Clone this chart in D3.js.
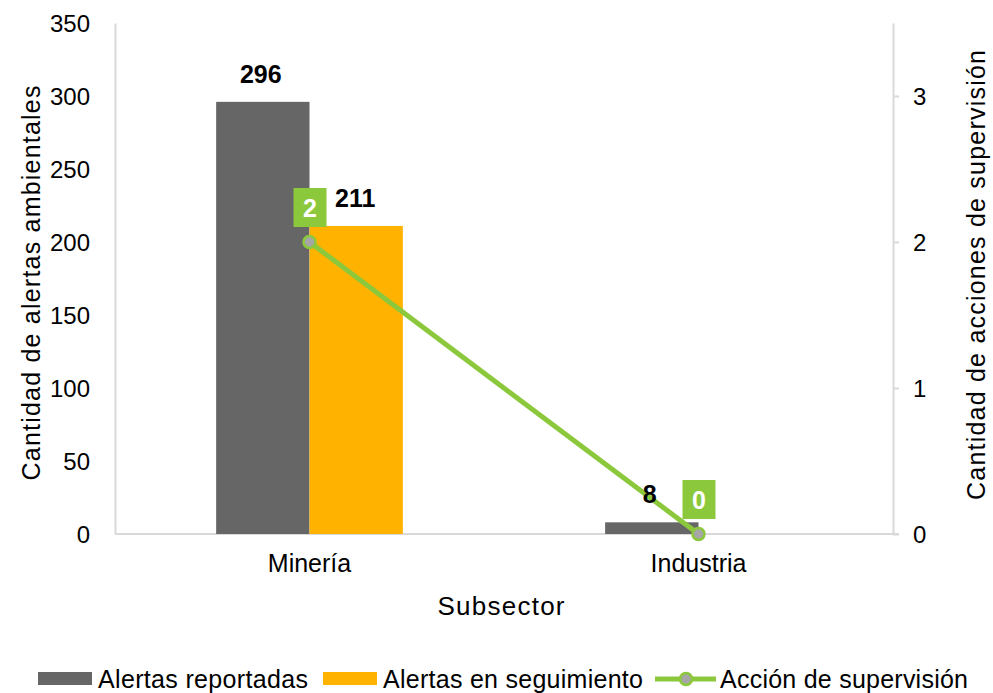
<!DOCTYPE html>
<html>
<head>
<meta charset="utf-8">
<script src="https://cdn.jsdelivr.net/npm/d3@7"></script>
<style>
  body { margin: 0; background: #fff; }
  svg text { font-family: "Liberation Sans", Arial, sans-serif; fill: #000; }
</style>
</head>
<body>
<div class="graph"></div>
<script>
// Data
const subsectors = ["Minería", "Industria"];
const alertasReportadas = [296, 8];
const alertasSeguimiento = [211, 0];
const accionSupervision = [2, 0];
const leftTicks = [0, 50, 100, 150, 200, 250, 300, 350];
const rightTicks = [0, 1, 2, 3];

const W = 993, H = 693;
const plot = {left: 115, right: 893, top: 23, bottom: 534};

const svg = d3.select(".graph").append("svg")
  .attr("width", W).attr("height", H);

// scales
const x = d3.scaleBand().domain(subsectors).range([plot.left, plot.right]);
const y = d3.scaleLinear().domain([0, 350]).range([plot.bottom, plot.top]);
const y2 = d3.scaleLinear().domain([0, 3.5]).range([plot.bottom, plot.top]);
const barW = x.bandwidth() * 0.24;

const gray = "#666666", orange = "#ffb300", green = "#8cc83c", axisCol = "#d9d9d9";

// left axis
const gl = svg.append("g").attr("transform", "translate(" + plot.left + ",0)")
  .call(d3.axisLeft(y).tickValues(leftTicks).tickSize(0).tickPadding(25));
gl.select(".domain").attr("stroke", axisCol).attr("stroke-width", 2);
gl.selectAll("text").style("font-size", "24px").attr("dy", "0.35em");

// right axis
const gr = svg.append("g").attr("transform", "translate(" + plot.right + ",0)")
  .call(d3.axisRight(y2).tickValues(rightTicks).tickFormat(d3.format("d"))
    .tickSize(6).tickPadding(14).tickSizeOuter(0));
gr.select(".domain").attr("stroke", axisCol).attr("stroke-width", 2);
gr.selectAll(".tick line").attr("stroke", axisCol).attr("stroke-width", 2);
gr.selectAll("text").style("font-size", "24px").attr("dy", "0.35em");

// baseline / category axis
const gx = svg.append("g").attr("transform", "translate(0," + plot.bottom + ")")
  .call(d3.axisBottom(x).tickSize(0).tickPadding(20));
gx.select(".domain").attr("d", "M" + plot.left + ",0H" + (plot.right + 6))
  .attr("stroke", axisCol).attr("stroke-width", 2);
gx.selectAll("text").style("font-size", "25px").attr("dy", "0.7em");

// bars
const cx = d => x(d) + x.bandwidth() / 2;
svg.selectAll(".bar1").data(subsectors).enter().append("rect")
  .attr("x", d => cx(d) - barW).attr("width", barW)
  .attr("y", (d, i) => y(alertasReportadas[i]))
  .attr("height", (d, i) => plot.bottom - y(alertasReportadas[i]))
  .attr("fill", gray);
svg.selectAll(".bar2").data(subsectors).enter().append("rect")
  .attr("x", d => cx(d)).attr("width", barW)
  .attr("y", (d, i) => y(alertasSeguimiento[i]))
  .attr("height", (d, i) => plot.bottom - y(alertasSeguimiento[i]))
  .attr("fill", orange);

// line on secondary axis
const line = d3.line().x((d, i) => cx(subsectors[i])).y(d => y2(d));
svg.append("path").datum(accionSupervision)
  .attr("d", line).attr("fill", "none").attr("stroke", green).attr("stroke-width", 5);
svg.selectAll(".pt").data(accionSupervision).enter().append("circle")
  .attr("cx", (d, i) => cx(subsectors[i])).attr("cy", d => y2(d)).attr("r", 6)
  .attr("fill", "#a6a6a6").attr("stroke", green).attr("stroke-width", 2.5);

// bar labels (drawn on top of the line)
svg.selectAll(".lab1").data(subsectors).enter().append("text")
  .attr("x", d => cx(d) - barW / 2 - 2).attr("y", (d, i) => y(alertasReportadas[i]) - 19)
  .attr("text-anchor", "middle").style("font-size", "25px").style("font-weight", "bold")
  .text((d, i) => alertasReportadas[i]);
svg.selectAll(".lab2").data(subsectors.filter((d, i) => alertasSeguimiento[i] > 0)).enter().append("text")
  .attr("x", d => cx(d) + barW / 2 - 1).attr("y", d => y(alertasSeguimiento[subsectors.indexOf(d)]) - 19)
  .attr("text-anchor", "middle").style("font-size", "25px").style("font-weight", "bold")
  .text(d => alertasSeguimiento[subsectors.indexOf(d)]);

// green data labels
const gLab = svg.selectAll(".glab").data(accionSupervision).enter().append("g")
  .attr("transform", (d, i) => "translate(" + cx(subsectors[i]) + "," + (y2(d) - 34) + ")");
gLab.append("rect").attr("x", -16).attr("y", -20).attr("width", 33).attr("height", 39).attr("fill", green);
gLab.append("text").attr("x", 0.5).attr("text-anchor", "middle").attr("dy", "0.36em")
  .style("font-size", "25px").style("font-weight", "bold").style("fill", "#fff")
  .text(d => d);

// axis titles
svg.append("text").attr("transform", "translate(40,283) rotate(-90)")
  .attr("text-anchor", "middle").style("font-size", "25px")
  .attr("textLength", 395).attr("lengthAdjust", "spacing")
  .text("Cantidad de alertas ambientales");
svg.append("text").attr("transform", "translate(985,275) rotate(-90)")
  .attr("text-anchor", "middle").style("font-size", "25px")
  .attr("textLength", 450).attr("lengthAdjust", "spacing")
  .text("Cantidad de acciones de supervisión");
svg.append("text").attr("x", 501).attr("y", 615)
  .attr("text-anchor", "middle").style("font-size", "26px")
  .attr("textLength", 127).attr("lengthAdjust", "spacing").text("Subsector");

// legend
const legend = svg.append("g").attr("transform", "translate(0,679)");
legend.append("rect").attr("x", 38).attr("y", -7).attr("width", 54).attr("height", 13).attr("fill", gray);
legend.append("text").attr("x", 98).attr("y", 9).style("font-size", "25px")
  .attr("textLength", 210).attr("lengthAdjust", "spacing").text("Alertas reportadas");
legend.append("rect").attr("x", 323).attr("y", -7).attr("width", 54).attr("height", 13).attr("fill", orange);
legend.append("text").attr("x", 383).attr("y", 9).style("font-size", "25px")
  .attr("textLength", 260).attr("lengthAdjust", "spacing").text("Alertas en seguimiento");
legend.append("line").attr("x1", 655).attr("x2", 716).attr("y1", 0).attr("y2", 0)
  .attr("stroke", green).attr("stroke-width", 5);
legend.append("circle").attr("cx", 686).attr("cy", 0).attr("r", 6)
  .attr("fill", "#a6a6a6").attr("stroke", green).attr("stroke-width", 2.5);
legend.append("text").attr("x", 720).attr("y", 9).style("font-size", "25px")
  .attr("textLength", 248).attr("lengthAdjust", "spacing").text("Acción de supervisión");
</script>
</body>
</html>
